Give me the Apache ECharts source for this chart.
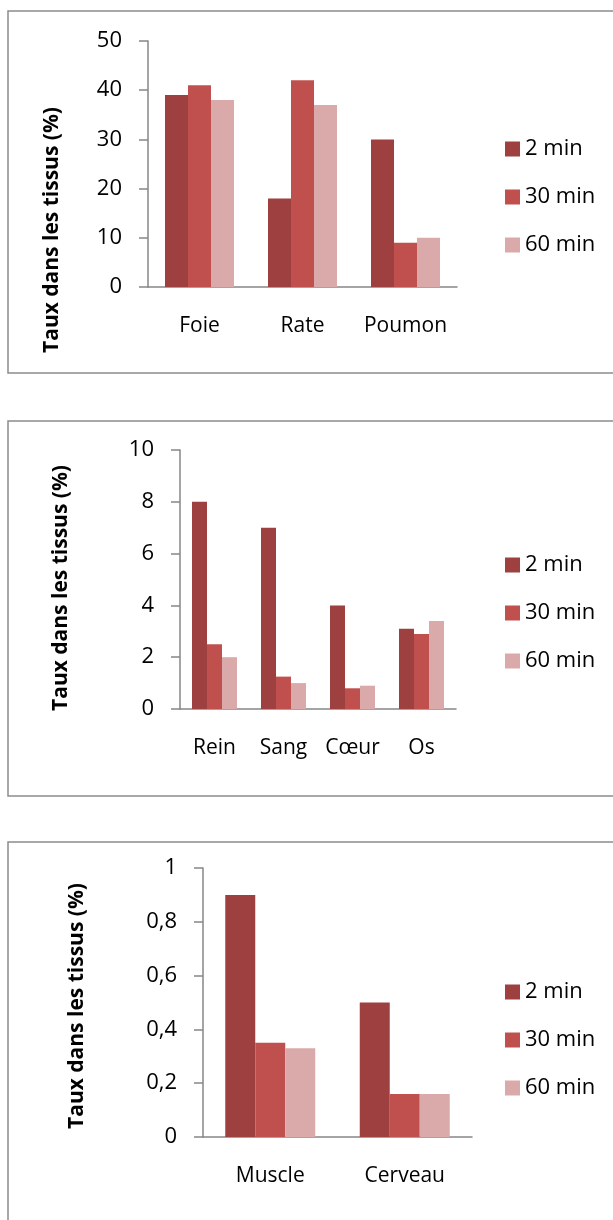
<!DOCTYPE html>
<html>
<head>
<meta charset="utf-8">
<script src="https://cdn.jsdelivr.net/npm/echarts@6/dist/echarts.min.js"></script>
<style>
  html, body { margin: 0; padding: 0; background: #fff; }
  #chart { width: 613px; height: 1220px; }
</style>
</head>
<body>
<div id="chart"></div>
<script>
// --- données ---
const seriesNames = ['2 min', '30 min', '60 min'];

const organes1 = ['Foie', 'Rate', 'Poumon'];
const min2_1 = [39, 18, 30];
const min30_1 = [41, 42, 9];
const min60_1 = [38, 37, 10];

const organes2 = ['Rein', 'Sang', 'Cœur', 'Os'];
const min2_2 = [8, 7, 4, 3.1];
const min30_2 = [2.5, 1.25, 0.8, 2.9];
const min60_2 = [2, 1, 0.9, 3.4];

const organes3 = ['Muscle', 'Cerveau'];
const min2_3 = [0.9, 0.5];
const min30_3 = [0.35, 0.16];
const min60_3 = [0.33, 0.16];

const colors = ['#9D403F', '#C0504D', '#DAAAAA'];
const FONT = '"Open Sans", sans-serif';
const axisGray = '#868686';

const chart = echarts.init(document.getElementById('chart'));

// un panneau = grid + axes + légende + 3 séries
const panels = [
  { cats: organes1, data: [min2_1, min30_1, min60_1], grid: { left: 148, top: 41, width: 309, height: 246 },
    max: 50, interval: 10, barWidth: 23, legendTop: 132, box: [8, 11, 362], title: [52, 230] },
  { cats: organes2, data: [min2_2, min30_2, min60_2], grid: { left: 180, top: 450, width: 276, height: 259 },
    max: 10, interval: 2, barWidth: 15, legendTop: 548, box: [8, 421, 375], title: [61, 588] },
  { cats: organes3, data: [min2_3, min30_3, min60_3], grid: { left: 203, top: 868, width: 269, height: 269 },
    max: 1, interval: 0.2, barWidth: 30, legendTop: 975, box: [8, 842, 420], title: [77, 1006] }
];

const option = {
  animation: false,
  color: colors,
  grid: [], xAxis: [], yAxis: [], legend: [], series: [], graphic: []
};

panels.forEach((p, i) => {
  option.grid.push(p.grid);
  option.xAxis.push({
    type: 'category', gridIndex: i, data: p.cats,
    axisLine: { lineStyle: { color: axisGray, width: 1.5 } },
    axisTick: { length: 8, lineStyle: { color: axisGray, width: 1.5 } },
    axisLabel: { color: '#000', fontFamily: FONT, fontSize: 21, margin: 29, interval: 0, hideOverlap: false }
  });
  option.yAxis.push({
    type: 'value', gridIndex: i, min: 0, max: p.max, interval: p.interval,
    splitLine: { show: false },
    axisLine: { show: true, lineStyle: { color: axisGray, width: 1.5 } },
    axisTick: { show: true, length: 9, lineStyle: { color: axisGray, width: 1.5 } },
    axisLabel: {
      color: '#000', fontFamily: FONT, fontSize: 22, margin: 26,
      formatter: v => String(+v.toFixed(2)).replace('.', ',')
    }
  });
  option.legend.push({
    orient: 'vertical', left: 500, top: p.legendTop,
    data: seriesNames, icon: 'rect', itemWidth: 15, itemHeight: 15, itemGap: 24,
    textStyle: { color: '#000', fontFamily: FONT, fontSize: 22, lineHeight: 24 }
  });
  p.data.forEach((vals, k) => {
    option.series.push({
      name: seriesNames[k], type: 'bar', xAxisIndex: i, yAxisIndex: i,
      data: vals, barWidth: p.barWidth, barGap: '0%',
      itemStyle: { color: colors[k] }
    });
  });
  // cadre gris
  option.graphic.push({
    type: 'rect', silent: true,
    shape: { x: p.box[0], y: p.box[1], width: 640, height: p.box[2] },
    style: { fill: 'none', stroke: '#8C8C8C', lineWidth: 1.5 }
  });
  // titre de l'axe Y
  option.graphic.push({
    type: 'text', silent: true, x: p.title[0], y: p.title[1], rotation: Math.PI / 2,
    style: {
      text: 'Taux dans les tissus (%)', fontFamily: FONT, fontWeight: 'bold', fontSize: 21,
      fill: '#000', align: 'center', verticalAlign: 'middle'
    }
  });
});

chart.setOption(option);
</script>
</body>
</html>
